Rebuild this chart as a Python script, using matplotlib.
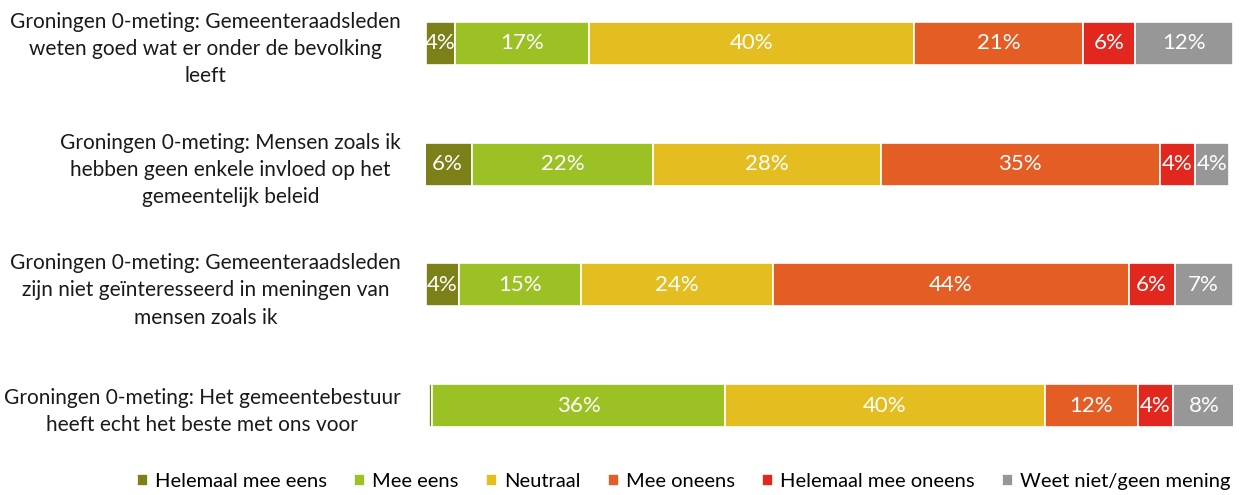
import matplotlib
matplotlib.use("Agg")
import matplotlib.pyplot as plt
import numpy as np

matplotlib.rc("font", family=["Lato", "DejaVu Sans"], size=14)

questions = [
    "Groningen 0-meting: Gemeenteraadsleden\nweten goed wat er onder de bevolking\nleeft",
    "Groningen 0-meting: Mensen zoals ik\nhebben geen enkele invloed op het\ngemeentelijk beleid",
    "Groningen 0-meting: Gemeenteraadsleden\nzijn niet geïnteresseerd in meningen van\nmensen zoals ik",
    "Groningen 0-meting: Het gemeentebestuur\nheeft echt het beste met ons voor",
]

answers = ["Helemaal mee eens", "Mee eens", "Neutraal", "Mee oneens",
           "Helemaal mee oneens", "Weet niet/geen mening"]

# percentages per answer, one value per question (top to bottom)
helemaal_eens = [3.6, 6.2, 4.1, 0.4]
mee_eens = [16.6, 22.4, 15.1, 36.3]
neutraal = [40.3, 28.2, 23.8, 39.6]
mee_oneens = [21.0, 34.6, 44.1, 11.6]
helemaal_oneens = [6.4, 4.3, 5.7, 4.3]
weet_niet = [12.1, 4.3, 7.2, 7.8]

colors = ["#7b8018", "#9cc125", "#e4be20", "#e45d25", "#e2271e", "#979797"]

# small horizontal shift of each bar as in the original
shift = [0, -0.42, 0, 0.4]

series = [helemaal_eens, mee_eens, neutraal, mee_oneens, helemaal_oneens, weet_niet]

fig = plt.figure(figsize=(12.43, 4.95), dpi=100)
ax = fig.add_axes([0.3425, 0.093, 0.6492, 0.907])

y = np.arange(len(questions))
left = np.array(shift, dtype=float)
for name, vals, col in zip(answers, series, colors):
    vals = np.array(vals)
    ax.barh(y, vals, left=left, height=0.355, color=col, edgecolor="white",
            linewidth=1.2, label=name)
    for yi, l, v in zip(y, left, vals):
        if round(v) >= 1:
            ax.text(l + v / 2, yi, "{}%".format(round(v)), ha="center", va="center",
                    color="white", fontsize=16)
    left = left + vals

ax.set_xlim(0, 100)
ax.set_ylim(3.36, -0.36)
ax.set_yticks(y)
ax.set_yticklabels(questions, multialignment="center", fontsize=15, color="#1a1a1a",
                   linespacing=1.45)
ax.tick_params(axis="y", length=0, pad=18)
ax.set_xticks([])
for s in ax.spines.values():
    s.set_visible(False)

leg = fig.legend(loc="center", bbox_to_anchor=(0.55, 0.027), ncol=6, frameon=False,
                 fontsize=14.5, handlelength=0.55, handleheight=0.55, handletextpad=0.35,
                 columnspacing=1.35)

plt.savefig("out.png", dpi=100)
